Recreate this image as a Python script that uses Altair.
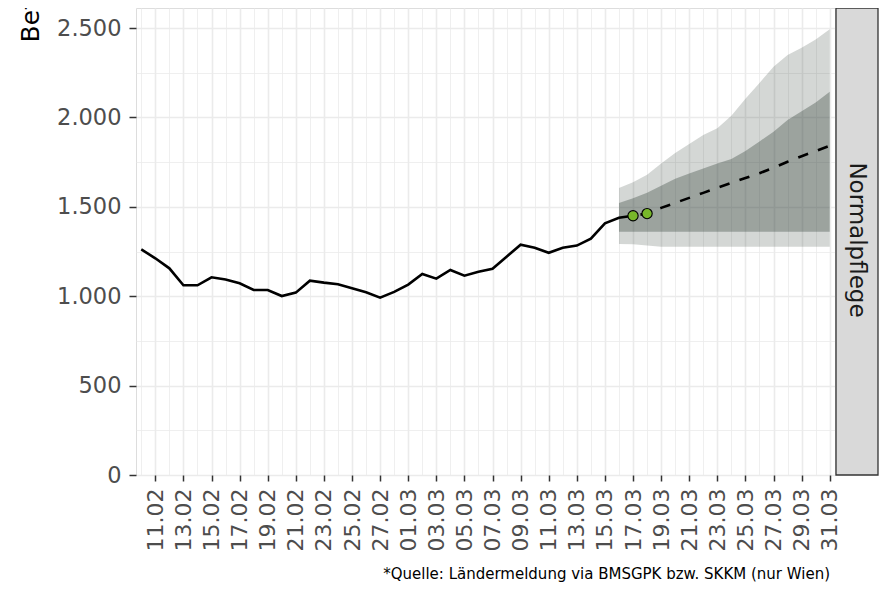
import altair as alt
import pandas as pd

# ---------------- data ----------------
obs_dates = pd.date_range("2021-02-10", "2021-03-17", freq="D").strftime("%Y-%m-%d").tolist()
obs_values = [1262, 1212, 1156, 1061, 1061, 1106, 1094, 1072, 1035, 1035,
              1001, 1020, 1087, 1076, 1067, 1044, 1022, 992, 1024,
              1065, 1124, 1098, 1147, 1115, 1137, 1154, 1221, 1288, 1271,
              1243, 1271, 1283, 1322, 1408, 1439, 1450]

point_dates = ["2021-03-17", "2021-03-18"]
point_values = [1450, 1462]

fc_dates = pd.date_range("2021-03-17", "2021-03-31", freq="D").strftime("%Y-%m-%d").tolist()
fc_values = [1450, 1462, 1494, 1522, 1550, 1578, 1607, 1634, 1661, 1688,
             1718, 1752, 1783, 1812, 1842]

band_dates = pd.date_range("2021-03-16", "2021-03-31", freq="D").strftime("%Y-%m-%d").tolist()
outer_lo = [1292, 1290, 1283, 1277, 1277, 1277, 1277, 1277, 1277, 1277, 1277, 1277, 1277, 1277, 1277, 1277]
outer_hi = [1605, 1638, 1680, 1742, 1801, 1852, 1902, 1940, 2010, 2105, 2193, 2283, 2349, 2390, 2436, 2493]
inner_lo = [1361] * 16
inner_hi = [1521, 1548, 1579, 1618, 1657, 1687, 1715, 1742, 1768, 1812, 1866, 1920, 1985, 2035, 2083, 2144]

major_x_ticks = pd.date_range("2021-02-11", "2021-03-31", freq="2D")
minor_x_ticks = pd.date_range("2021-02-10", "2021-03-30", freq="2D")
major_y_ticks = [0, 500, 1000, 1500, 2000, 2500]
minor_y_ticks = [250, 750, 1250, 1750, 2250]

y_title = "Betten"
strip_label = "Normalpflege"
caption = "*Quelle: Ländermeldung via BMSGPK bzw. SKKM (nur Wien)"

obs_df = pd.DataFrame({"date": obs_dates, "value": obs_values})
pt_df = pd.DataFrame({"date": point_dates, "value": point_values})
fc_df = pd.DataFrame({"date": fc_dates, "value": fc_values})
band_df = pd.DataFrame({"date": band_dates, "olo": outer_lo, "ohi": outer_hi,
                        "ilo": inner_lo, "ihi": inner_hi})
one = pd.DataFrame({"a": [0]})


def dt(ts):
    return alt.DateTime(year=ts.year, month=ts.month, date=ts.day, utc=True)


FONT = "DejaVu Sans"
W, H = 699, 467

x_scale = alt.Scale(type="utc", nice=False,
                    domain=[alt.DateTime(year=2021, month=2, date=9, hours=15, utc=True),
                            alt.DateTime(year=2021, month=3, date=31, hours=9, utc=True)])
y_scale = alt.Scale(domain=[0, 2612], nice=False, zero=False)

minor_x_axis = alt.Axis(values=[dt(t) for t in minor_x_ticks], grid=True, gridColor="#EBEBEB",
                        gridWidth=0.8, labels=False, ticks=False, domain=False, title=None,
                        orient="bottom")
minor_y_axis = alt.Axis(values=minor_y_ticks, grid=True, gridColor="#EBEBEB", gridWidth=0.8,
                        labels=False, ticks=False, domain=False, title=None, orient="left")

major_x_axis = alt.Axis(values=[dt(t) for t in major_x_ticks], format="%d.%m",
                        labelAngle=270, labelAlign="right", labelBaseline="middle",
                        labelFont=FONT, labelFontSize=22, labelColor="#4D4D4D",
                        labelPadding=7, labelFlush=False, labelOverlap=False,
                        tickSize=6, tickColor="#333333", tickWidth=1.5,
                        grid=True, gridColor="#EBEBEB", gridWidth=1.6,
                        domain=False, title=None, orient="bottom")
major_y_axis = alt.Axis(values=major_y_ticks,
                        labelExpr="replace(format(datum.value, ','), ',', '.')",
                        labelFont=FONT, labelFontSize=22.5, labelColor="#4D4D4D",
                        labelPadding=8, labelFlush=False, labelOverlap=False,
                        tickSize=7, tickColor="#333333", tickWidth=1.5,
                        grid=True, gridColor="#EBEBEB", gridWidth=1.6,
                        domain=False, orient="left",
                        title=y_title, titleAngle=270, titleAlign="left",
                        titleBaseline="alphabetic", titleX=-98, titleY=34,
                        titleFont=FONT, titleFontSize=25, titleFontWeight="normal",
                        titleColor="#000000")

X = alt.X("date:T", scale=x_scale, axis=major_x_axis)
Y = alt.Y("value:Q", scale=y_scale, axis=major_y_axis)

minor = alt.Chart(obs_df).mark_point(opacity=0).encode(
    x=alt.X("date:T", scale=x_scale, axis=minor_x_axis),
    y=alt.Y("value:Q", scale=y_scale, axis=minor_y_axis),
)

BAND = "#28382E"
outer = alt.Chart(band_df).mark_area(color=BAND, opacity=0.2).encode(
    x=X, y=alt.Y("olo:Q", scale=y_scale, axis=major_y_axis), y2="ohi:Q")
inner = alt.Chart(band_df).mark_area(color=BAND, opacity=0.326).encode(
    x=X, y=alt.Y("ilo:Q", scale=y_scale, axis=major_y_axis), y2="ihi:Q")

obs_line = alt.Chart(obs_df).mark_line(color="black", strokeWidth=2.6).encode(x=X, y=Y)
fc_line = alt.Chart(fc_df).mark_line(color="black", strokeWidth=2.6,
                                     strokeDash=[10.5, 10.5], strokeDashOffset=13.5).encode(x=X, y=Y)
pts = alt.Chart(pt_df).mark_circle(size=105, color="#78B82A", stroke="black",
                                   strokeWidth=1.1, opacity=1).encode(x=X, y=Y)

strip_rect = alt.Chart(one).mark_rect(fill="#D9D9D9", stroke="#333333", strokeWidth=1.3).encode(
    x=alt.value(W + 1), x2=alt.value(W + 43), y=alt.value(0), y2=alt.value(H))
strip_text = alt.Chart(one).mark_text(text=strip_label, angle=90, font=FONT, fontSize=23,
                                      color="#1A1A1A", align="center", baseline="middle").encode(
    x=alt.value(W + 22), y=alt.value(232))
cap = alt.Chart(one).mark_text(text=caption, font=FONT, fontSize=15, color="#000000",
                               align="right", baseline="alphabetic").encode(
    x=alt.value(694), y=alt.value(571))

main = alt.layer(outer, inner, obs_line, fc_line, pts, strip_rect, strip_text, cap)

chart = alt.layer(minor, main).resolve_axis(x="independent", y="independent").properties(
    width=W, height=H,
    autosize=alt.AutoSizeParams(type="none"),
    padding={"left": 128, "top": 0, "right": 44, "bottom": 109},
).configure_view(stroke="#333333", strokeWidth=1.3).configure(background="white")

chart.save("out.html", embed_options={"renderer": "svg", "actions": False})
